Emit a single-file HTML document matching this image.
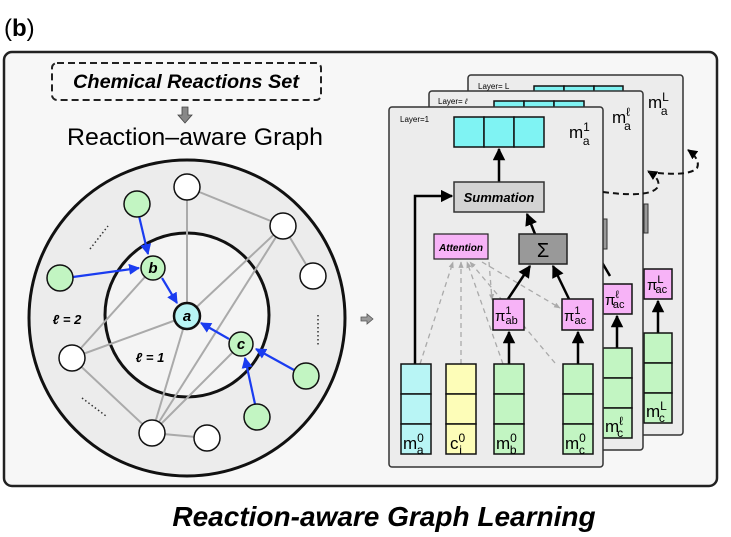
<!DOCTYPE html>
<html><head><meta charset="utf-8"><style>
html,body{margin:0;padding:0;background:#fff;}
svg{display:block;}
text{font-family:"Liberation Sans","DejaVu Sans",sans-serif;}
</style></head><body>
<svg width="731" height="537" viewBox="0 0 731 537" xmlns="http://www.w3.org/2000/svg">
<defs>
<marker id="bk" viewBox="0 0 10 10" refX="9" refY="5" markerWidth="5" markerHeight="5" orient="auto"><path d="M0,0L10,5L0,10z" fill="#000"/></marker>
<marker id="bl" viewBox="0 0 10 10" refX="9" refY="5" markerWidth="5" markerHeight="5" orient="auto"><path d="M0,0L10,5L0,10z" fill="#1a3cf0"/></marker>
<marker id="gr" viewBox="0 0 10 10" refX="9" refY="5" markerWidth="5" markerHeight="5" orient="auto"><path d="M0,1L10,5L0,9z" fill="#aaa"/></marker>
</defs>
<text x="4" y="36" font-size="24">(<tspan font-weight="bold">b</tspan>)</text>
<rect x="4" y="52" width="713" height="434" rx="8" fill="#f7f7f7" stroke="#222" stroke-width="2.5"/>
<rect x="52" y="63" width="269" height="37" rx="5" fill="none" stroke="#222" stroke-width="2" stroke-dasharray="7,4"/>
<text x="186" y="88" font-size="19.5" font-weight="bold" font-style="italic" text-anchor="middle" textLength="226" lengthAdjust="spacingAndGlyphs">Chemical Reactions Set</text>
<path d="M182,107h6v8h4l-7,8l-7,-8h4z" fill="#888" stroke="#444" stroke-width="0.8"/>
<text x="195" y="145" font-size="24" text-anchor="middle" textLength="256" lengthAdjust="spacingAndGlyphs">Reaction–aware Graph</text>
<circle cx="187" cy="318" r="158" fill="#ececec" stroke="#111" stroke-width="3"/>
<circle cx="187" cy="315" r="82" fill="#f4f4f4" stroke="#111" stroke-width="3"/>
<g stroke="#aaa" stroke-width="2">
<line x1="187" y1="187" x2="187" y2="316"/>
<line x1="187" y1="187" x2="283" y2="226"/>
<line x1="283" y1="226" x2="313" y2="276"/>
<line x1="283" y1="226" x2="187" y2="316"/>
<line x1="283" y1="226" x2="152" y2="433"/>
<line x1="72" y1="358" x2="153" y2="268"/>
<line x1="72" y1="358" x2="187" y2="316"/>
<line x1="72" y1="358" x2="152" y2="433"/>
<line x1="152" y1="433" x2="187" y2="316"/>
<line x1="152" y1="433" x2="241" y2="344"/>
<line x1="152" y1="433" x2="207" y2="438"/>
</g>
<g stroke="#1a3cf0" stroke-width="2.2" marker-end="url(#bl)">
<line x1="139" y1="216" x2="148" y2="254"/>
<line x1="73" y1="277" x2="139" y2="268"/>
<line x1="162" y1="278" x2="177" y2="303"/>
<line x1="229" y1="339" x2="201" y2="323"/>
<line x1="294" y1="370" x2="256" y2="349"/>
<line x1="255" y1="404" x2="245" y2="358"/>
</g>
<g stroke="#111" stroke-width="1.5">
<circle cx="137" cy="204" r="13" fill="#c2f5c2"/>
<circle cx="60" cy="278" r="13" fill="#c2f5c2"/>
<circle cx="306" cy="376" r="13" fill="#c2f5c2"/>
<circle cx="257" cy="417" r="13" fill="#c2f5c2"/>
<circle cx="153" cy="268" r="12" fill="#c2f5c2"/>
<circle cx="241" cy="344" r="12" fill="#c2f5c2"/>
<circle cx="187" cy="187" r="13" fill="#fff"/>
<circle cx="283" cy="226" r="13" fill="#fff"/>
<circle cx="313" cy="276" r="13" fill="#fff"/>
<circle cx="72" cy="358" r="13" fill="#fff"/>
<circle cx="152" cy="433" r="13" fill="#fff"/>
<circle cx="207" cy="438" r="13" fill="#fff"/>
</g>
<circle cx="187" cy="316" r="13" fill="#b8f5f5" stroke="#111" stroke-width="2.5"/>
<g font-style="italic" font-weight="bold" font-size="15" text-anchor="middle">
<text x="153" y="273">b</text><text x="241" y="349">c</text><text x="187" y="321">a</text>
</g>
<g font-style="italic" font-weight="bold" font-size="13" text-anchor="middle">
<text x="67" y="324">ℓ = 2</text><text x="150" y="362">ℓ = 1</text>
</g>
<g stroke="#333" stroke-width="1.5" stroke-dasharray="1.5,2.5">
<line x1="90" y1="249" x2="108" y2="226"/>
<line x1="318" y1="315" x2="318" y2="346"/>
<line x1="82" y1="398" x2="106" y2="416"/>
</g>
<path d="M361,317h6v-3l6,5l-6,5v-3h-6z" fill="#999" stroke="#555" stroke-width="0.8"/>
<rect x="468" y="75" width="215" height="360" rx="3" fill="#ececec" stroke="#333" stroke-width="1.5"/>
<text x="478" y="89" font-size="8">Layer= L</text>
<g fill="#7ff3f3" stroke="#111" stroke-width="1.5"><rect x="534" y="86" width="30" height="20"/><rect x="564" y="86" width="30" height="20"/><rect x="594" y="86" width="29" height="20"/></g>
<text x="648" y="108" font-size="17">m<tspan font-size="12" dy="-7">L</tspan><tspan font-size="12" dx="-8" dy="14">a</tspan></text>
<rect x="644" y="204" width="4" height="29" fill="#999" stroke="#333"/>
<rect x="644" y="269" width="28" height="30" fill="#f7b3f7" stroke="#111" stroke-width="1.5"/>
<text x="647" y="290" font-size="15">π<tspan font-size="11" dy="-7">L</tspan><tspan font-size="11" dx="-8" dy="10">ac</tspan></text>
<line x1="658" y1="333" x2="658" y2="301" stroke="#000" stroke-width="2.5" marker-end="url(#bk)"/>
<g fill="#c2f5c2" stroke="#111" stroke-width="1.5"><rect x="644" y="333" width="28" height="30"/><rect x="644" y="363" width="28" height="30"/><rect x="644" y="393" width="28" height="30"/></g>
<text x="646" y="417" font-size="17">m<tspan font-size="12" dy="-7">L</tspan><tspan font-size="12" dx="-8" dy="12">c</tspan></text>
<rect x="429" y="91" width="214" height="359" rx="3" fill="#ececec" stroke="#333" stroke-width="1.5"/>
<text x="438" y="104" font-size="8">Layer= <tspan font-style="italic">ℓ</tspan></text>
<g fill="#7ff3f3" stroke="#111" stroke-width="1.5"><rect x="494" y="101" width="30" height="20"/><rect x="524" y="101" width="30" height="20"/><rect x="554" y="101" width="30" height="20"/></g>
<text x="612" y="123" font-size="17">m<tspan font-size="12" dy="-7">ℓ</tspan><tspan font-size="12" dx="-6" dy="14">a</tspan></text>
<rect x="603" y="219" width="4" height="30" fill="#999" stroke="#333"/>
<line x1="600" y1="259" x2="610" y2="276" stroke="#000" stroke-width="2.5"/>
<rect x="603" y="284" width="29" height="30" fill="#f7b3f7" stroke="#111" stroke-width="1.5"/>
<text x="605" y="305" font-size="15">π<tspan font-size="11" dy="-7">ℓ</tspan><tspan font-size="11" dx="-6" dy="10">ac</tspan></text>
<line x1="617" y1="348" x2="617" y2="316" stroke="#000" stroke-width="2.5" marker-end="url(#bk)"/>
<g fill="#c2f5c2" stroke="#111" stroke-width="1.5"><rect x="603" y="348" width="29" height="30"/><rect x="603" y="378" width="29" height="30"/><rect x="603" y="408" width="29" height="30"/></g>
<text x="605" y="432" font-size="17">m<tspan font-size="12" dy="-7">ℓ</tspan><tspan font-size="12" dx="-6" dy="12">c</tspan></text>
<rect x="389" y="107" width="214" height="360" rx="3" fill="#ececec" stroke="#333" stroke-width="1.5"/>
<text x="400" y="122" font-size="8">Layer=1</text>
<g fill="#7ff3f3" stroke="#111" stroke-width="1.5"><rect x="454" y="117" width="30" height="30"/><rect x="484" y="117" width="30" height="30"/><rect x="514" y="117" width="30" height="30"/></g>
<text x="569" y="138" font-size="17">m<tspan font-size="12" dy="-7">1</tspan><tspan font-size="12" dx="-7" dy="14">a</tspan></text>
<line x1="499" y1="182" x2="499" y2="149" stroke="#000" stroke-width="2.5" marker-end="url(#bk)"/>
<rect x="454" y="182" width="90" height="30" fill="#d3d3d3" stroke="#333" stroke-width="1.5"/>
<text x="499" y="202" font-size="13" font-style="italic" font-weight="bold" text-anchor="middle">Summation</text>
<path d="M415,364V196H452" fill="none" stroke="#000" stroke-width="2.5" marker-end="url(#bk)"/>
<line x1="535" y1="234" x2="527" y2="214" stroke="#000" stroke-width="2.5" marker-end="url(#bk)"/>
<rect x="519" y="234" width="48" height="30" fill="#999" stroke="#222" stroke-width="1.5"/>
<text x="543" y="257" font-size="20" text-anchor="middle">Σ</text>
<rect x="434" y="234" width="54" height="25" fill="#f7b3f7" stroke="#222" stroke-width="1.2"/>
<text x="461" y="251" font-size="10" font-style="italic" font-weight="bold" text-anchor="middle">Attention</text>
<g stroke="#aaa" stroke-width="1.3" stroke-dasharray="5,4" marker-end="url(#gr)">
<line x1="420" y1="364" x2="453" y2="262"/>
<line x1="461" y1="364" x2="461" y2="262"/>
<line x1="503" y1="364" x2="467" y2="262"/>
<line x1="555" y1="363" x2="470" y2="262"/>
<line x1="489" y1="262" x2="492" y2="300"/>
<line x1="482" y1="262" x2="560" y2="308"/>
</g>
<line x1="508" y1="299" x2="530" y2="266" stroke="#000" stroke-width="2.5" marker-end="url(#bk)"/>
<line x1="569" y1="299" x2="553" y2="266" stroke="#000" stroke-width="2.5" marker-end="url(#bk)"/>
<rect x="493" y="299" width="31" height="31" fill="#f7b3f7" stroke="#111" stroke-width="1.5"/>
<text x="495" y="321" font-size="15">π<tspan font-size="11" dy="-7">1</tspan><tspan font-size="11" dx="-6" dy="10">ab</tspan></text>
<rect x="562" y="299" width="31" height="31" fill="#f7b3f7" stroke="#111" stroke-width="1.5"/>
<text x="564" y="321" font-size="15">π<tspan font-size="11" dy="-7">1</tspan><tspan font-size="11" dx="-6" dy="10">ac</tspan></text>
<line x1="509" y1="364" x2="509" y2="332" stroke="#000" stroke-width="2.5" marker-end="url(#bk)"/>
<line x1="578" y1="364" x2="578" y2="332" stroke="#000" stroke-width="2.5" marker-end="url(#bk)"/>
<g stroke="#111" stroke-width="1.5">
<rect x="401" y="364" width="30" height="30" fill="#b8f5f5"/><rect x="401" y="394" width="30" height="30" fill="#b8f5f5"/><rect x="401" y="424" width="30" height="30" fill="#b8f5f5"/>
<rect x="446" y="364" width="30" height="30" fill="#fdfdb8"/><rect x="446" y="394" width="30" height="30" fill="#fdfdb8"/><rect x="446" y="424" width="30" height="30" fill="#fdfdb8"/>
<rect x="494" y="364" width="30" height="30" fill="#c2f5c2"/><rect x="494" y="394" width="30" height="30" fill="#c2f5c2"/><rect x="494" y="424" width="30" height="30" fill="#c2f5c2"/>
<rect x="563" y="364" width="30" height="30" fill="#c2f5c2"/><rect x="563" y="394" width="30" height="30" fill="#c2f5c2"/><rect x="563" y="424" width="30" height="30" fill="#c2f5c2"/>
</g>
<g font-size="17">
<text x="403" y="449">m<tspan font-size="12" dy="-7">0</tspan><tspan font-size="12" dx="-7" dy="12">a</tspan></text>
<text x="450" y="449">c<tspan font-size="12" dy="-7">0</tspan><tspan font-size="12" dx="-6" dy="12">i</tspan></text>
<text x="496" y="449">m<tspan font-size="12" dy="-7">0</tspan><tspan font-size="12" dx="-7" dy="12">b</tspan></text>
<text x="565" y="449">m<tspan font-size="12" dy="-7">0</tspan><tspan font-size="12" dx="-7" dy="12">c</tspan></text>
</g>
<g fill="none" stroke="#111" stroke-width="2" stroke-dasharray="6,4">
<path d="M603,192C625,195 650,196 657,188C661,182 656,176 648,171" marker-end="url(#bk)"/>
<path d="M648,172C665,174 690,176 697,168C700,162 695,155 688,150" marker-end="url(#bk)"/>
</g>
<text x="384" y="526" font-size="28" font-style="italic" font-weight="bold" text-anchor="middle">Reaction-aware Graph Learning</text>
</svg>
</body></html>
